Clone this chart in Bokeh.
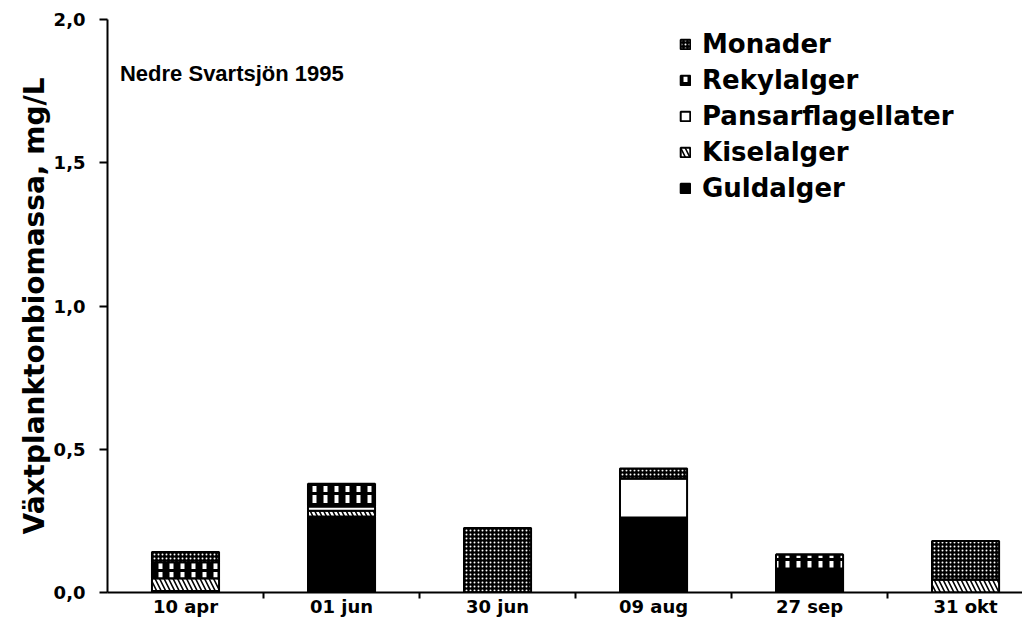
from bokeh.plotting import figure
from bokeh.models import ColumnDataSource, FixedTicker, Legend, LegendItem, Label
from bokeh.embed import file_html
from bokeh.resources import INLINE

dates = ["10 apr", "01 jun", "30 jun", "09 aug", "27 sep", "31 okt"]
guldalger = [0.005, 0.265, 0.0, 0.262, 0.084, 0.0]
kiselalger = [0.045, 0.020, 0.0, 0.0, 0.0, 0.045]
pansarflagellater = [0.0, 0.015, 0.0, 0.136, 0.0, 0.0]
rekylalger = [0.056, 0.075, 0.0, 0.0, 0.049, 0.0]
monader = [0.035, 0.005, 0.225, 0.035, 0.0, 0.135]
y_ticks = [0.0, 0.5, 1.0, 1.5, 2.0]
y_tick_labels = ["0,0", "0,5", "1,0", "1,5", "2,0"]

FONT = "DejaVu Sans"
TFONT = "Liberation Sans"
xs = list(range(1, len(dates) + 1))
src = ColumnDataSource(dict(x=xs, g=guldalger, k=kiselalger, p=pansarflagellater,
                            r=rekylalger, m=monader))

p = figure(frame_width=915, frame_height=573, x_range=(0.5, 6.365), y_range=(0, 2.0),
           output_backend="svg", toolbar_location=None,
           min_border_left=107, min_border_top=19, min_border_right=0)
p.outline_line_color = None
p.xgrid.visible = False
p.ygrid.visible = False

styles = [
    dict(fill_color="black"),
    dict(fill_color="black", hatch_pattern="left_diagonal_line", hatch_color="white",
         hatch_scale=9, hatch_weight=2.5),
    dict(fill_color="white"),
    dict(fill_color="black", hatch_pattern="vertical_dash", hatch_color="white",
         hatch_scale=11, hatch_weight=4),
    dict(fill_color="black", hatch_pattern="dot", hatch_color="white",
         hatch_scale=4, hatch_weight=2),
]
names = ["Guldalger", "Kiselalger", "Pansarflagellater", "Rekylalger", "Monader"]
keys = ["g", "k", "p", "r", "m"]
rs = p.vbar_stack(keys, x="x", width=0.43, source=src, line_color="black", line_width=2,
                  fill_color=[s["fill_color"] for s in styles])
for r, st in zip(rs, styles):
    for k, v in st.items():
        setattr(r.glyph, k, v)

items = [LegendItem(label=n, renderers=[r]) for n, r in zip(names, rs)][::-1]
legend = Legend(items=items, location=(572, 389), padding=0, margin=0,
                border_line_color=None, background_fill_alpha=0,
                glyph_width=12, glyph_height=12, label_height=28, spacing=6,
                label_standoff=11,
                label_text_font=FONT, label_text_font_size="26px",
                label_text_font_style="bold", label_text_color="black")
p.add_layout(legend, "center")

title = Label(x=0.58, y=1.81, text="Nedre Svartsjön 1995", text_font=TFONT,
              text_font_size="22px", text_font_style="bold", text_baseline="middle",
              text_color="black")
p.add_layout(title)

p.xaxis.ticker = FixedTicker(ticks=xs, minor_ticks=[1.5, 2.5, 3.5, 4.5, 5.5])
p.xaxis.major_label_overrides = {x: d for x, d in zip(xs, dates)}
p.xaxis.major_tick_out = 0
p.xaxis.major_tick_in = 0
p.xaxis.minor_tick_out = 6
p.xaxis.minor_tick_in = 0
p.xaxis.minor_tick_line_width = 2
p.xaxis.axis_line_width = 2
p.xaxis.major_label_text_font = FONT
p.xaxis.major_label_text_font_size = "18px"
p.xaxis.major_label_text_font_style = "bold"
p.xaxis.major_label_text_color = "black"
p.xaxis.major_label_standoff = -3

p.yaxis.ticker = FixedTicker(ticks=y_ticks, minor_ticks=[])
p.yaxis.major_label_overrides = {t: l for t, l in zip(y_ticks, y_tick_labels)}
p.yaxis.major_tick_out = 8
p.yaxis.major_tick_in = 0
p.yaxis.major_tick_line_width = 2
p.yaxis.axis_line_width = 2
p.yaxis.major_label_text_font = FONT
p.yaxis.major_label_text_font_size = "18px"
p.yaxis.major_label_text_font_style = "bold"
p.yaxis.major_label_text_color = "black"
p.yaxis.major_label_standoff = 14
p.yaxis.axis_label = "Växtplanktonbiomassa, mg/L"
p.yaxis.axis_label_text_font = FONT
p.yaxis.axis_label_text_font_size = "28px"
p.yaxis.axis_label_text_font_style = "bold"
p.yaxis.axis_label_text_color = "black"
p.yaxis.axis_label_standoff = 0

open("out.html", "w").write(file_html(p, INLINE))
